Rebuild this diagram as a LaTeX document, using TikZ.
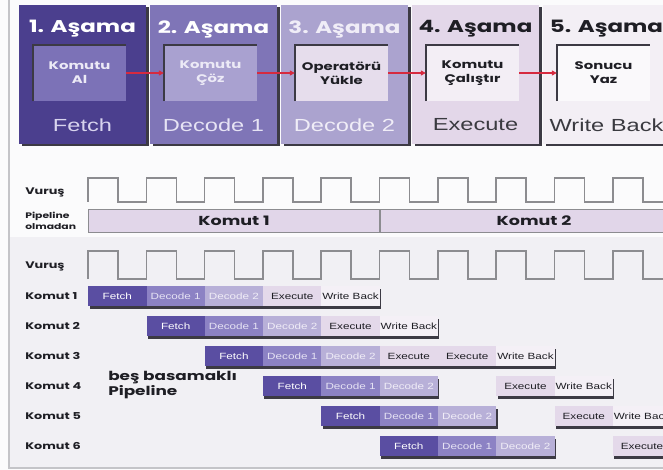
\documentclass[tikz,border=0pt]{standalone}
\usepackage{fontspec}
\usepackage{graphicx}
\setmainfont{Liberation Sans}
\newfontfamily\geo{Poppins}
\usetikzlibrary{arrows.meta}
\definecolor{bgtop}{HTML}{FBFBFC}
\definecolor{bglow}{HTML}{F1F0F4}
\definecolor{framec}{HTML}{C4C4C8}
\definecolor{shadowc}{HTML}{3C3A44}
\definecolor{st1o}{HTML}{4B3F8E}
\definecolor{st1i}{HTML}{7C72B7}
\definecolor{st2o}{HTML}{7F75B7}
\definecolor{st2i}{HTML}{A9A1D0}
\definecolor{st3o}{HTML}{ABA3CF}
\definecolor{st3i}{HTML}{E6DDEC}
\definecolor{st4o}{HTML}{E3D7E9}
\definecolor{st4i}{HTML}{F3EEF5}
\definecolor{st5o}{HTML}{F3EFF5}
\definecolor{st5i}{HTML}{FAF9FB}
\definecolor{arrowc}{HTML}{D62A3F}
\definecolor{clkc}{HTML}{8C8C90}
\definecolor{plbar}{HTML}{E1D6E9}
\definecolor{segFc}{HTML}{5A4EA2}
\definecolor{segDc}{HTML}{8C82C4}
\definecolor{segDDc}{HTML}{B8B0D8}
\definecolor{segEc}{HTML}{E4D9EA}
\definecolor{segWc}{HTML}{F4F0F6}
\definecolor{darktxt}{HTML}{1E1E24}
\definecolor{foottxt}{HTML}{3A3A40}
\definecolor{f1c}{HTML}{D8D4EE}
\definecolor{f2c}{HTML}{E6E3F4}
\definecolor{f3c}{HTML}{F0EDF7}
\definecolor{lighttxt}{HTML}{ECEAF6}
\newcommand\sxt[1]{\scalebox{1.3}[1]{#1}}
\tikzset{
  txt/.style={inner sep=0pt, xscale=1.35, transform shape, align=center},
  head/.style={txt, font=\geo\bfseries\fontsize{17}{17}\selectfont},
  innertxt/.style={txt, font=\geo\bfseries\fontsize{11}{14}\selectfont},
  foot/.style={txt, font=\fontsize{17.5}{17.5}\selectfont},
  lbl/.style={txt, anchor=west, align=left, font=\geo\bfseries\fontsize{9.5}{10}\selectfont, text=darktxt},
  inbox/.style={minimum width=93pt, minimum height=56pt, inner sep=0pt},
  inset/.style={draw=shadowc, line width=2.5pt},
  redarr/.style={draw=arrowc, line width=1.3pt, -{Triangle[length=5pt,width=5pt]}},
  clk/.style={draw=clkc, line width=1.6pt, line join=miter},
  segbox/.style={minimum width=58.3pt, minimum height=20pt, inner sep=0pt, anchor=west, font=\fontsize{9}{9}\selectfont},
  segF/.style={segbox, fill=segFc, text=white},
  segD/.style={segbox, fill=segDc, text=f2c},
  segDD/.style={segbox, fill=segDDc, text=f3c},
  segE/.style={segbox, fill=segEc, text=darktxt},
  segW/.style={segbox, fill=segWc, text=darktxt},
  bartxt/.style={txt, font=\geo\bfseries\fontsize{13}{13}\selectfont, text=darktxt}
}
\newcommand\segm[4]{\node[#3] (r#1s#2) at ({88+58.3*(#1+#2)}, {296+30*#1}) {\sxt{#4}};}
\newcommand\grp[3]{\fill[shadowc] ({88+58.3*(#1+#2)+1.5}, {296+30*#1-7.5}) rectangle ({88+58.3*(#1+#3)+1.5},{296+30*#1+12.5});}
\begin{document}
\begin{tikzpicture}[x=1pt,y=-1pt]
\useasboundingbox (0,0) rectangle (663,470);
\clip (0,0) rectangle (663,470);
\fill[bgtop] (0,0) rectangle (663,470);
\fill[bglow] (8,237) rectangle (663,468);
\draw[framec, line width=2pt] (9,0) -- (9,468) -- (663,468);

% top stages
\foreach \i/\oc/\ic/\hc/\tc/\fc/\inner/\foot in {
  0/st1o/st1i/white/lighttxt/f1c/{Komutu\\Al}/Fetch,
  1/st2o/st2i/white/lighttxt/f2c/{Komutu\\Çöz}/Decode 1,
  2/st3o/st3i/f3c/darktxt/f3c/{Operatörü\\Yükle}/Decode 2,
  3/st4o/st4i/darktxt/darktxt/foottxt/{Komutu\\Çalıştır}/Execute,
  4/st5o/st5i/darktxt/darktxt/foottxt/{Sonucu\\Yaz}/Write Back}{
  \pgfmathsetmacro\xo{19+131*\i}
  \pgfmathtruncatemacro\n{\i+1}
  \fill[shadowc] (\xo+2.5,7) rectangle (\xo+129.5,146.5);
  \fill[\oc] (\xo,5) rectangle (\xo+127,144);
  \node[inbox, fill=\ic] (in\i) at (\xo+60.5,73) {};
  \draw[inset] (in\i.south west) -- (in\i.north west) -- (in\i.north east);
  \node[head, text=\hc] (hd\i) at (\xo+63.5,29) {\n. Aşama};
  \node[innertxt, text=\tc] (it\i) at (in\i) {\inner};
  \node[foot, text=\fc] (ft\i) at (\xo+63.5,125) {\foot};
}
\foreach \i/\j in {0/1,1/2,2/3,3/4} \draw[redarr] (in\i.east) -- (in\j.west);

% clock 1 and non-pipelined bar
\node[lbl] (v1) at (25,192) {Vuruş};
\draw[clk] (88,202) \foreach \k in {0,...,10}{ -- ++(0,-24) -- ++(30,0) -- ++(0,24) -- ++(28.3,0)};
\node[lbl, font=\geo\bfseries\fontsize{8}{11}\selectfont] (po) at (25,221) {Pipeline\\olmadan};
\filldraw[fill=plbar, draw=clkc, line width=1pt] (88,210) rectangle (700,232);
\draw[clkc, line width=1.2pt] (380,210) -- (380,232);
\node[bartxt] (k1) at (234,221) {Komut 1};
\node[bartxt] (k2) at (534,221) {Komut 2};

% clock 2
\node[lbl] (v2) at (25,266) {Vuruş};
\draw[clk] (88,279) \foreach \k in {0,...,10}{ -- ++(0,-28) -- ++(30,0) -- ++(0,28) -- ++(28.3,0)};

% row labels
\foreach \r in {0,...,5}{
  \pgfmathtruncatemacro\n{\r+1}
  \node[lbl] (kl\r) at (25,{296+30*\r}) {Komut \n};
}

% rows
\grp{0}{0}{5}
\segm{0}{0}{segF}{Fetch}\segm{0}{1}{segD}{Decode 1}\segm{0}{2}{segDD}{Decode 2}\segm{0}{3}{segE}{Execute}\segm{0}{4}{segW}{Write Back}
\grp{1}{0}{5}
\segm{1}{0}{segF}{Fetch}\segm{1}{1}{segD}{Decode 1}\segm{1}{2}{segDD}{Decode 2}\segm{1}{3}{segE}{Execute}\segm{1}{4}{segW}{Write Back}
\grp{2}{0}{6}
\segm{2}{0}{segF}{Fetch}\segm{2}{1}{segD}{Decode 1}\segm{2}{2}{segDD}{Decode 2}\segm{2}{3}{segE}{Execute}\segm{2}{4}{segE}{Execute}\segm{2}{5}{segW}{Write Back}
\foreach \r in {3,4,5}{
  \grp{\r}{0}{3}
  \grp{\r}{4}{6}
  \segm{\r}{0}{segF}{Fetch}\segm{\r}{1}{segD}{Decode 1}\segm{\r}{2}{segDD}{Decode 2}\segm{\r}{4}{segE}{Execute}\segm{\r}{5}{segW}{Write Back}
}

\node[lbl, anchor=north west, font=\geo\bfseries\fontsize{12.5}{15}\selectfont] (bb) at (108,371) {beş basamaklı\\Pipeline};
\end{tikzpicture}
\end{document}
